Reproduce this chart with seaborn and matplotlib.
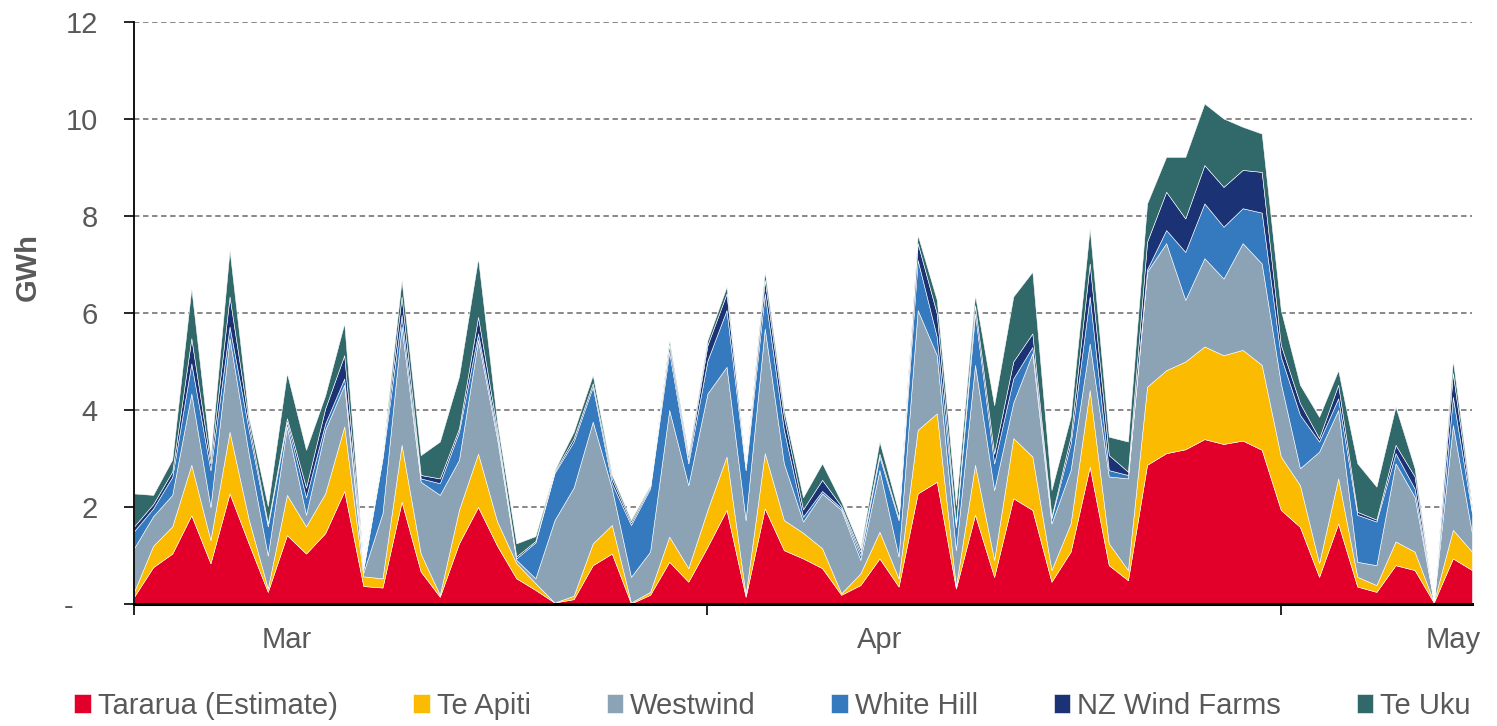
import pandas as pd
import matplotlib.pyplot as plt
import seaborn as sns

# daily wind generation, GWh, 21 Feb - 2 May
start_date = '2013-02-21'

tararua = [0.15, 0.76, 1.04, 1.83, 0.84, 2.28, 1.25, 0.25, 1.42, 1.04,
           1.46, 2.33, 0.37, 0.34, 2.11, 0.67, 0.15, 1.25, 2.00, 1.20,
           0.53, 0.29, 0.03, 0.10, 0.80, 1.04, 0.01, 0.19, 0.87, 0.46,
           1.18, 1.94, 0.15, 1.97, 1.11, 0.94, 0.74, 0.19, 0.39, 0.94,
           0.36, 2.28, 2.52, 0.32, 1.84, 0.56, 2.18, 1.94, 0.46, 1.08,
           2.83, 0.80, 0.49, 2.87, 3.11, 3.19, 3.40, 3.30, 3.37, 3.18,
           1.94, 1.59, 0.56, 1.66, 0.36, 0.25, 0.80, 0.70, 0.03, 0.94,
           0.70]
te_apiti = [0.10, 0.44, 0.56, 1.04, 0.48, 1.27, 0.50, 0.07, 0.83, 0.56,
            0.82, 1.33, 0.20, 0.19, 1.17, 0.37, 0.04, 0.69, 1.10, 0.50,
            0.31, 0.14, 0.00, 0.07, 0.45, 0.59, 0.02, 0.06, 0.52, 0.28,
            0.76, 1.10, 0.04, 1.14, 0.62, 0.53, 0.41, 0.03, 0.24, 0.55,
            0.17, 1.31, 1.41, 0.04, 1.03, 0.35, 1.24, 1.10, 0.24, 0.58,
            1.58, 0.45, 0.21, 1.61, 1.71, 1.81, 1.91, 1.83, 1.87, 1.75,
            1.10, 0.86, 0.28, 0.93, 0.20, 0.14, 0.49, 0.38, 0.01, 0.59,
            0.38]
westwind = [0.90, 0.61, 0.65, 1.47, 0.68, 1.93, 1.35, 0.68, 1.41, 0.24,
            1.31, 0.86, 0.08, 1.34, 2.44, 1.48, 2.06, 1.03, 2.34, 1.70,
            0.07, 0.10, 1.70, 2.23, 2.51, 0.75, 0.53, 0.83, 2.61, 1.71,
            2.40, 1.85, 1.54, 2.57, 1.17, 0.23, 1.13, 1.72, 0.28, 1.27,
            0.45, 2.47, 1.20, 0.75, 2.06, 1.44, 0.73, 2.13, 0.96, 1.10,
            0.96, 1.38, 1.89, 2.37, 2.62, 1.27, 1.82, 1.58, 2.20, 2.09,
            1.51, 0.35, 2.30, 1.41, 0.31, 0.41, 1.61, 1.13, 0.01, 2.16,
            0.38]
white_hill = [0.35, 0.16, 0.37, 0.62, 0.76, 0.24, 0.50, 0.60, 0.10, 0.36,
              0.13, 0.13, 0.07, 1.13, 0.24, 0.07, 0.24, 0.58, 0.14, 0.10,
              0.03, 0.74, 0.97, 0.95, 0.72, 0.11, 1.07, 1.30, 1.20, 0.45,
              0.68, 1.17, 1.03, 0.72, 0.69, 0.10, 0.05, 0.04, 0.10, 0.28,
              0.75, 1.03, 0.38, 0.48, 1.06, 0.55, 0.50, 0.13, 0.11, 0.55,
              0.97, 0.13, 0.07, 0.05, 0.27, 0.99, 1.13, 1.07, 0.72, 1.05,
              0.55, 1.10, 0.21, 0.24, 0.97, 0.90, 0.21, 0.17, 0.01, 0.58,
              0.41]
nz_wind_farms = [0.10, 0.09, 0.11, 0.52, 0.14, 0.62, 0.15, 0.06, 0.07, 0.20,
                 0.31, 0.48, 0.03, 0.05, 0.38, 0.07, 0.10, 0.07, 0.34, 0.10,
                 0.04, 0.03, 0.03, 0.07, 0.07, 0.10, 0.05, 0.04, 0.14, 0.07,
                 0.32, 0.34, 0.07, 0.28, 0.28, 0.15, 0.23, 0.04, 0.07, 0.06,
                 0.05, 0.35, 0.48, 0.06, 0.17, 0.20, 0.35, 0.28, 0.03, 0.14,
                 0.68, 0.31, 0.07, 0.57, 0.79, 0.69, 0.79, 0.82, 0.79, 0.84,
                 0.24, 0.24, 0.07, 0.28, 0.06, 0.04, 0.17, 0.25, 0.01, 0.49,
                 0.05]
te_uku = [0.68, 0.19, 0.25, 1.03, 0.14, 0.96, 0.10, 0.36, 0.93, 0.78,
          0.27, 0.66, 0.05, 0.05, 0.34, 0.41, 0.76, 1.07, 1.21, 0.15,
          0.27, 0.10, 0.03, 0.13, 0.17, 0.07, 0.05, 0.03, 0.10, 0.10,
          0.10, 0.14, 0.07, 0.17, 0.13, 0.25, 0.34, 0.09, 0.07, 0.25,
          0.12, 0.17, 0.28, 0.39, 0.21, 1.00, 1.34, 1.27, 0.55, 0.41,
          0.73, 0.38, 0.62, 0.79, 0.72, 1.27, 1.27, 1.41, 0.89, 0.79,
          0.72, 0.38, 0.44, 0.30, 1.00, 0.68, 0.79, 0.17, 0.01, 0.27,
          0.08]

series_names = ['Tararua (Estimate)', 'Te Apiti', 'Westwind', 'White Hill',
                'NZ Wind Farms', 'Te Uku']
colors = ['#E2002A', '#FABB00', '#8CA3B5', '#357ABF', '#1B3274', '#31686A']

month_labels = ['Mar', 'Apr', 'May']
month_starts = ['2013-03-01', '2013-04-01', '2013-05-01']
y_ticks = [0, 2, 4, 6, 8, 10, 12]
y_labels = ['-   ', '2', '4', '6', '8', '10', '12']

FS = 21


def main():
    df = pd.DataFrame({'Tararua (Estimate)': tararua, 'Te Apiti': te_apiti,
                       'Westwind': westwind, 'White Hill': white_hill,
                       'NZ Wind Farms': nz_wind_farms, 'Te Uku': te_uku},
                      index=pd.date_range(start_date, periods=len(tararua), freq='D'))

    sns.set_style("white")
    plt.rcParams['font.family'] = ['Liberation Sans', 'DejaVu Sans']
    grey = '#595959'

    fig = plt.figure(figsize=(14.97, 7.26), dpi=100)
    ax = fig.add_axes([134 / 1497, 1 - 604 / 726, 1338 / 1497, 582 / 726])

    ax.stackplot(df.index, [df[c] for c in series_names], labels=series_names,
                 colors=colors, edgecolor='white', linewidth=0.4, zorder=2)

    ax.set_xlim(df.index[0], df.index[-1])
    ax.set_ylim(0, 12)

    for y in y_ticks[1:]:
        ax.axhline(y, color='#7F7F7F', linestyle=(0, (3, 2)), linewidth=1.3, zorder=1)

    ax.set_yticks(y_ticks)
    ax.set_yticklabels(y_labels)
    ax.tick_params(axis='y', direction='out', length=7, width=1.2, color='black',
                   labelsize=FS, labelcolor=grey, pad=19, left=True)

    # tick marks every 30 days, month names at the first of each month
    ax.set_xticks(pd.date_range(start_date, periods=3, freq='30D'))
    ax.set_xticklabels([])
    ax.set_xticks(pd.to_datetime(month_starts), minor=True)
    ax.set_xticklabels(month_labels, minor=True)
    ax.tick_params(axis='x', which='major', direction='out', length=8, width=1.2,
                   color='black', bottom=True)
    ax.tick_params(axis='x', which='minor', length=0, labelsize=FS,
                   labelcolor=grey, pad=16)

    ax.set_ylabel('GWh', fontsize=FS, fontweight='bold', color=grey)
    ax.yaxis.set_label_coords(-0.069, 0.579)

    sns.despine(ax=ax)
    ax.spines['left'].set_color('black')
    ax.spines['left'].set_linewidth(1.3)
    ax.spines['bottom'].set_color('black')
    ax.spines['bottom'].set_linewidth(2.2)
    ax.spines['bottom'].set_zorder(3)

    handles, labels = ax.get_legend_handles_labels()
    fig.legend(handles, labels, loc='center', bbox_to_anchor=(0.516, 1 - 706 / 726),
               ncol=6, frameon=False, fontsize=FS, labelcolor=grey,
               handlelength=0.56, handleheight=0.62, handletextpad=0.24,
               columnspacing=2.6, borderpad=0)

    fig.savefig('out.png', dpi=100)


if __name__ == '__main__':
    main()
